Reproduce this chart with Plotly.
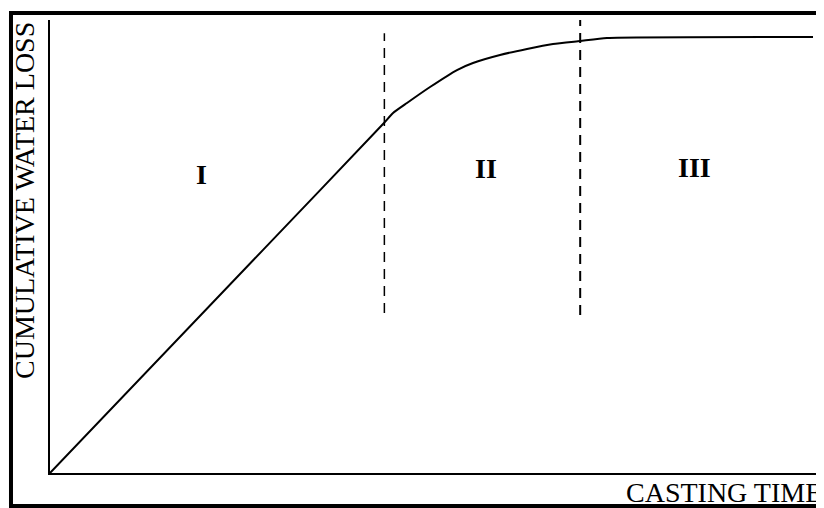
import plotly.graph_objects as go

# casting curve (arbitrary units)
casting_time = [0, 27.5, 43.15, 44.32, 46.12, 49.10, 52.58, 54.65, 58.14, 61.63, 64.99, 68.48, 71.96, 98.58]
water_loss = [0, 49.2, 77.26, 79.47, 81.68, 85.21, 88.96, 90.51, 92.27, 93.60, 94.70, 95.36, 96.03, 96.25]

# stage boundaries
boundary_1_x = [43.2, 43.2]
boundary_1_y = [35.3, 97.1]
boundary_2_x = [68.5, 68.5]
boundary_2_y = [34.9, 100.4]

stage_labels = ['I', 'II', 'III']
stage_x = [19.6, 56.3, 83.3]
stage_y = [66.0, 67.3, 67.5]

SERIF = 'Liberation Serif, Times New Roman, serif'

fig = go.Figure()
fig.add_trace(go.Scatter(x=casting_time, y=water_loss, mode='lines', cliponaxis=False,
                         line=dict(color='black', width=2, shape='spline', smoothing=0.5)))
for bx, by, w in [(boundary_1_x, boundary_1_y, 1.5), (boundary_2_x, boundary_2_y, 2)]:
    fig.add_trace(go.Scatter(x=bx, y=by, mode='lines', cliponaxis=False,
                             line=dict(color='black', width=w, dash='10px,7px')))

for lab, lx, ly in zip(stage_labels, stage_x, stage_y):
    fig.add_annotation(x=lx, y=ly, text='<b>' + lab + '</b>', showarrow=False,
                       font=dict(family=SERIF, size=28, color='black'))

# axis titles
fig.add_annotation(xref='paper', yref='paper', x=-0.0336, y=0.6026,
                   xanchor='center', yanchor='middle',
                   text='CUMULATIVE WATER LOSS', textangle=-90, showarrow=False,
                   font=dict(family=SERIF, size=28, color='black'))
fig.add_annotation(xref='paper', yref='paper', x=1.0, y=-0.042,
                   xanchor='right', yanchor='middle',
                   text='CASTING TIME', showarrow=False,
                   font=dict(family=SERIF, size=28, color='black'))

# outer frame
fig.add_shape(type='rect', xref='paper', yref='paper',
              x0=-0.0504, x1=1.01, y0=-0.0728, y1=1.0155,
              line=dict(color='black', width=4))

fig.update_xaxes(range=[0, 100], showline=True, linecolor='black', linewidth=1.5,
                 showgrid=False, zeroline=False, showticklabels=False, ticks='')
fig.update_yaxes(range=[0, 100], showline=True, linecolor='black', linewidth=1.5,
                 showgrid=False, zeroline=False, showticklabels=False, ticks='')
# page body has an 8px margin, so the figure is 8px smaller and shifted
fig.update_layout(width=816, height=500, showlegend=False,
                  margin=dict(l=42, r=0, t=12, b=35),
                  plot_bgcolor='white', paper_bgcolor='white')
fig.write_html('out.html')
